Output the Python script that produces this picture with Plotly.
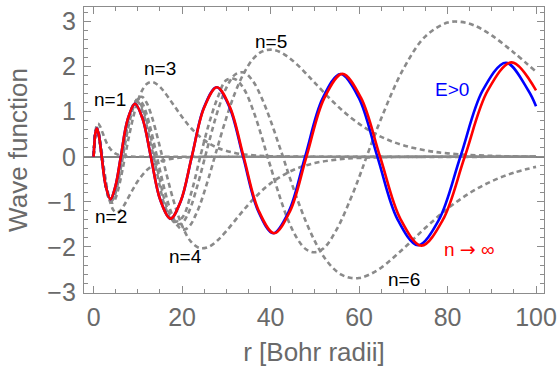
import plotly.graph_objects as go

# ---- data ----
r_n1 = [0, 0.25, 0.5, 0.75, 1, 1.5, 2, 2.5, 3, 4, 5, 6, 8, 10, 15, 30, 60, 100]
u_n1 = [0, 0.389, 0.607, 0.709, 0.736, 0.669, 0.541, 0.410, 0.299, 0.147, 0.067, 0.030, 0.005, 0.001, 0, 0, 0, 0]

r_n2 = [0, 0.25, 0.5, 0.76, 1, 1.5, 2, 2.5, 3, 3.5, 4, 4.5, 5.24, 6, 7, 8, 9, 10, 12, 14, 16, 18, 20, 25, 30, 60, 100]
u_n2 = [0, 0.386, 0.584, 0.644, 0.607, 0.354, 0, -0.358, -0.669, -0.912, -1.083, -1.186, -1.235, -1.195, -1.057,
        -0.879, -0.700, -0.539, -0.297, -0.153, -0.075, -0.035, -0.016, -0.002, 0, 0, 0]

r_n3 = [0, 0.25, 0.5, 0.75, 1, 1.5, 1.9, 2.5, 3, 3.5, 4, 4.5, 5, 5.5, 6, 6.5, 7.1, 8, 9, 10, 11, 12, 13, 14, 15, 16,
        18, 20, 22, 25, 28, 32, 36, 40, 50, 100]
u_n3 = [0, 0.385, 0.580, 0.633, 0.584, 0.303, 0, -0.443, -0.736, -0.929, -1.015, -1.004, -0.909, -0.749, -0.541,
        -0.304, 0, 0.453, 0.896, 1.242, 1.479, 1.612, 1.656, 1.628, 1.550, 1.436, 1.160, 0.881, 0.638, 0.368, 0.200,
        0.083, 0.032, 0.012, 0.001, 0]

r_n4 = [0, 0.25, 0.5, 0.75, 1, 1.5, 1.87, 2.5, 3, 3.5, 4, 4.5, 5, 5.5, 6, 6.61, 7, 8, 9, 10, 11, 12, 13, 14, 15,
        15.52, 16, 18, 20, 22, 24, 26, 28, 30, 33, 36, 40, 45, 50, 55, 60, 70, 80, 100]
u_n4 = [0, 0.385, 0.578, 0.629, 0.576, 0.286, 0, -0.469, -0.753, -0.925, -0.981, -0.930, -0.791, -0.585, -0.335, 0,
        0.215, 0.722, 1.097, 1.300, 1.326, 1.195, 0.940, 0.599, 0.210, 0, -0.195, -0.950, -1.527, -1.881, -2.023,
        -1.997, -1.855, -1.647, -1.289, -0.951, -0.590, -0.298, -0.140, -0.062, -0.026, -0.004, -0.001, 0]

r_n5 = [0, 0.25, 0.5, 0.75, 1, 1.5, 1.86, 2.5, 3, 3.5, 4, 4.5, 5, 5.5, 6, 6.43, 7, 8, 9, 10, 11, 12, 13, 14, 14.33,
        15, 16, 17, 18, 19, 20, 21, 22, 23, 24, 25, 26, 27.38, 28, 30, 32, 34, 36, 38, 40, 42, 44, 46, 48, 50, 54,
        58, 62, 66, 70, 75, 80, 90, 100]
u_n5 = [0, 0.385, 0.578, 0.627, 0.572, 0.278, 0, -0.480, -0.760, -0.922, -0.963, -0.895, -0.736, -0.510, -0.244, 0,
        0.323, 0.815, 1.141, 1.263, 1.185, 0.940, 0.575, 0.146, 0, -0.299, -0.715, -1.076, -1.351, -1.530, -1.612,
        -1.596, -1.498, -1.305, -1.074, -0.786, -0.467, 0, 0.210, 0.863, 1.426, 1.860, 2.163, 2.329, 2.374, 2.328,
        2.209, 2.043, 1.846, 1.639, 1.231, 0.878, 0.601, 0.397, 0.255, 0.142, 0.076, 0.020, 0.005]

r_n6 = [0, 0.25, 0.5, 0.75, 1, 1.5, 1.85, 2.5, 3, 3.5, 4, 4.5, 5, 5.5, 6, 6.34, 7, 8, 9, 10, 11, 12, 13, 13.83, 15,
        16, 17, 18, 19, 20, 21, 22, 23, 24, 25.2, 26, 28, 30, 32, 34, 36, 38, 40, 42, 42.8, 44, 46, 48, 50, 52, 54,
        56, 58, 60, 62, 65, 70, 75, 80, 85, 90, 95, 100]
u_n6 = [0, 0.385, 0.578, 0.626, 0.570, 0.274, 0, -0.487, -0.763, -0.921, -0.952, -0.875, -0.704, -0.468, -0.196, 0,
        0.374, 0.855, 1.155, 1.272, 1.088, 0.794, 0.407, 0, -0.530, -0.949, -1.233, -1.434, -1.493, -1.474, -1.334,
        -1.106, -0.797, -0.450, 0, 0.296, 1.000, 1.529, 1.824, 1.866, 1.678, 1.302, 0.804, 0.231, 0, -0.362, -0.929,
        -1.439, -1.871, -2.211, -2.457, -2.613, -2.684, -2.688, -2.627, -2.459, -2.038, -1.575, -1.151, -0.804,
        -0.541, -0.353, -0.224]

r_n7 = [0, 0.25, 0.5, 0.75, 1, 1.5, 1.84, 2.5, 3, 3.5, 4, 5, 6, 6.3, 7, 8, 9, 10, 11, 12, 13, 13.6, 14, 15, 16, 18,
        20, 22, 24.1, 26, 28, 30, 32, 34, 36, 38, 39.3, 40, 42, 44, 46, 48, 50, 52, 55, 58, 60, 61.7, 65, 70, 75, 80,
        83, 86, 90, 95, 100]
u_n7 = [0, 0.385, 0.577, 0.625, 0.569, 0.271, 0, -0.490, -0.765, -0.919, -0.947, -0.688, -0.169, 0, 0.408, 0.882,
        1.159, 1.212, 1.032, 0.692, 0.243, 0, -0.200, -0.669, -1.055, -1.442, -1.352, -0.825, 0, 0.706, 1.300, 1.700,
        1.720, 1.500, 1.045, 0.443, 0, -0.219, -0.863, -1.412, -1.810, -2.050, -2.117, -2.030, -1.600, -0.953,
        -0.460, 0, 0.848, 1.945, 2.670, 2.974, 2.990, 2.913, 2.690, 2.308, 1.886]

r_inf = [0, 0.2, 0.4, 0.723, 1.1, 1.45, 1.835, 2.733, 3.81, 4.911, 6.152, 7.673, 9.36, 11.08, 12.94, 15.08, 17.38,
         19.71, 22.19, 24.95, 27.87, 30.81, 33.91, 37.29, 40.8, 44.38, 48.10, 52.09, 56.2, 60.42, 64.75, 69.36, 74.1,
         78.93, 83.88, 89.1, 94.5, 100]
u_inf = [0, 0.325, 0.520, 0.624, 0.520, 0.305, 0, -0.640, -0.939, -0.660, 0, 0.820, 1.175, 0.840, 0, -0.960,
         -1.371, -0.980, 0, 1.080, 1.542, 1.100, 0, -1.190, -1.696, -1.210, 0, 1.290, 1.838, 1.310, 0, -1.380,
         -1.969, -1.400, 0, 1.470, 2.092, 1.470]

r_pos = [0, 0.2, 0.4, 0.723, 1.1, 1.45, 1.835, 2.733, 3.81, 4.911, 6.152, 7.673, 9.36, 11.08, 12.94, 15.08, 17.38,
         19.71, 22.19, 24.9, 27.8, 30.71, 33.79, 37.14, 40.6, 44.13, 47.8, 51.74, 55.8, 59.92, 64.15, 68.66, 73.3,
         78.03, 82.9, 87.95, 93.2, 98.25, 100]
u_pos = [0, 0.325, 0.520, 0.624, 0.520, 0.305, 0, -0.640, -0.939, -0.660, 0, 0.820, 1.175, 0.840, 0, -0.960,
         -1.371, -0.980, 0, 1.080, 1.540, 1.100, 0, -1.190, -1.694, -1.210, 0, 1.290, 1.835, 1.310, 0, -1.380,
         -1.960, -1.400, 0, 1.470, 2.085, 1.470, 1.120]

bound_states = [(r_n1, u_n1), (r_n2, u_n2), (r_n3, u_n3), (r_n4, u_n4), (r_n5, u_n5), (r_n6, u_n6), (r_n7, u_n7)]

labels = ["n=1", "n=2", "n=3", "n=4", "n=5", "n=6"]
label_x = [3.6, 4.0, 15.1, 20.7, 40.1, 70.1]
label_y = [1.26, -1.33, 1.95, -2.21, 2.56, -2.71]

# ---- figure ----
GRAY = "#8a8a8a"
FONT = "Liberation Sans, Arial, sans-serif"
fig = go.Figure()
for rr, uu in bound_states:
    fig.add_trace(go.Scatter(x=rr, y=uu, mode="lines", line=dict(color=GRAY, width=2.6, dash="5px,3.5px",
                                                                 shape="spline", smoothing=1.0),
                             hoverinfo="skip", showlegend=False))
fig.add_trace(go.Scatter(x=r_pos, y=u_pos, mode="lines", line=dict(color="#0000ff", width=2.6, shape="spline",
                                                                   smoothing=1.0), showlegend=False))
fig.add_trace(go.Scatter(x=r_inf, y=u_inf, mode="lines", line=dict(color="#ff0000", width=2.6, shape="spline",
                                                                   smoothing=1.0), showlegend=False))

for t, xx, yy in zip(labels, label_x, label_y):
    fig.add_annotation(x=xx, y=yy, text=t, showarrow=False, font=dict(size=19, color="black", family=FONT))
fig.add_annotation(x=80.9, y=1.49, text="E>0", showarrow=False, font=dict(size=19, color="#0000ff", family=FONT))
fig.add_annotation(x=84.9, y=-2.04, text="n <span style='font-family:DejaVu Sans'>→</span> ∞", showarrow=False,
                   font=dict(size=19, color="#ff0000", family=FONT))

axis_common = dict(showline=True, linecolor="#8c8c8c", linewidth=1.3, mirror="allticks", ticks="inside",
                   tickcolor="#8c8c8c", tickwidth=1, showgrid=False,
                   tickfont=dict(size=25, color="#6a6a6a", family=FONT),
                   title_font=dict(size=26, color="#6a6a6a", family=FONT))

fig.update_xaxes(range=[-2.17, 101.8], tickvals=[0, 20, 40, 60, 80, 100], ticklen=7,
                 minor=dict(dtick=5, tick0=0, ticks="inside", ticklen=4, tickcolor="#8c8c8c"),
                 zeroline=False, ticklabelstandoff=2,
                 title=dict(text="r [Bohr radii]", standoff=12), **axis_common)
fig.update_yaxes(range=[-3.02, 3.32], tickvals=[-3, -2, -1, 0, 1, 2, 3], ticklen=7,
                 minor=dict(dtick=0.2, tick0=0, ticks="inside", ticklen=4, tickcolor="#8c8c8c"),
                 zeroline=True, zerolinecolor="#808080", zerolinewidth=1.6, ticklabelstandoff=2,
                 title=dict(text="Wave function", standoff=12), **axis_common)

fig.update_layout(width=560, height=372, margin=dict(l=84, r=16, t=7, b=79, autoexpand=False),
                  plot_bgcolor="white", paper_bgcolor="white", font=dict(family=FONT))
fig.write_html("out.html", config={"displayModeBar": False},
               post_script="document.body.style.margin='0px';")
